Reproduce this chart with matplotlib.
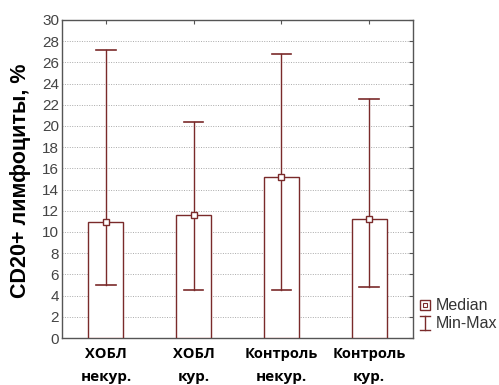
import matplotlib
matplotlib.use("Agg")
import matplotlib.pyplot as plt
import numpy as np
from matplotlib.transforms import blended_transform_factory

groups = ["ХОБЛ", "ХОБЛ", "Контроль", "Контроль"]
subgroups = ["некур.", "кур.", "некур.", "кур."]
medians = [10.9, 11.6, 15.2, 11.2]
mins = [5.0, 4.5, 4.5, 4.8]
maxs = [27.2, 20.4, 26.8, 22.5]
yticks = list(range(0, 31, 2))

red = "#7a2a2a"
fig = plt.figure(figsize=(4.99, 3.85), dpi=100)
ax = fig.add_axes([62/499, 1-338/385, (413-62)/499, (338-20)/385])
x = np.arange(len(medians))
ax.bar(x, medians, width=0.4, color="white", edgecolor=red, linewidth=1.0, zorder=3)
for xi, lo, hi in zip(x, mins, maxs):
    ax.plot([xi, xi], [lo, hi], color=red, lw=1.0, zorder=4)
    ax.plot([xi-0.11, xi+0.11], [hi, hi], color=red, lw=1.2, zorder=4)
    ax.plot([xi-0.11, xi+0.11], [lo, lo], color=red, lw=1.2, zorder=4)
ax.plot(x, medians, ls="none", marker="s", ms=5, mfc="white", mec=red, mew=1.0, zorder=5)

ax.set_xlim(-0.5, 3.5)
ax.set_ylim(0, 30)
ax.set_yticks(yticks)
ax.set_yticklabels([str(t) for t in yticks], fontsize=11, color="#444444", family="Liberation Sans")
ax.yaxis.grid(True, ls=(0, (1, 1.5)), color="#aaaaaa", lw=0.7, zorder=0)
ax.set_xticks(x)
ax.set_xticklabels([])
ax.tick_params(axis="y", left=False, right=True, direction="in", length=3, color="#555555", pad=2)
ax.tick_params(axis="x", bottom=True, top=True, direction="in", length=3, color="#555555")
for s in ax.spines.values():
    s.set_color("#555555")
    s.set_linewidth(1.0)

tr = blended_transform_factory(ax.transData, fig.transFigure)
for xi, g, sg in zip(x, groups, subgroups):
    fig.text(xi, 1-354/385, g, transform=tr, ha="center", va="center", fontsize=10.5,
             fontweight="bold", family="Open Sans")
    fig.text(xi, 1-377/385, sg, transform=tr, ha="center", va="center", fontsize=11,
             fontweight="bold", family="Open Sans")

fig.text(21/499, 1-181/385, "CD20+ лимфоциты, %", rotation=90, ha="center", va="center",
         fontsize=15.5, fontweight="bold", family="Liberation Sans")

# legend
fig.lines.append(plt.Line2D([425/499], [1-305/385], transform=fig.transFigure, marker="s", ms=7,
                            mfc="white", mec=red, mew=1.0, ls="none"))
fig.lines.append(plt.Line2D([425/499], [1-305/385], transform=fig.transFigure, marker="s", ms=2.5,
                            mfc="white", mec=red, mew=0.8, ls="none"))
fig.lines.append(plt.Line2D([425/499, 425/499], [1-316/385, 1-330/385], transform=fig.transFigure, color=red, lw=1.0))
fig.lines.append(plt.Line2D([420/499, 430/499], [1-316/385, 1-316/385], transform=fig.transFigure, color=red, lw=1.0))
fig.lines.append(plt.Line2D([420/499, 430/499], [1-330/385, 1-330/385], transform=fig.transFigure, color=red, lw=1.0))
fig.text(436/499, 1-306/385, "Median", ha="left", va="center", fontsize=11.5, color="#333333", family="Liberation Sans")
fig.text(436/499, 1-324/385, "Min-Max", ha="left", va="center", fontsize=11.5, color="#333333", family="Liberation Sans")

fig.savefig("out.png", dpi=100)
